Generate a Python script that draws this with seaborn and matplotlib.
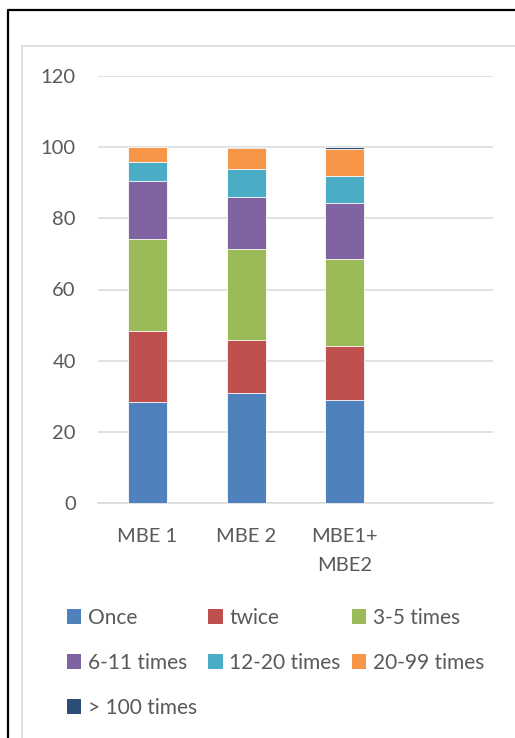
import matplotlib
matplotlib.use("Agg")
import matplotlib.pyplot as plt
from matplotlib.lines import Line2D
from matplotlib.patches import Patch
import numpy as np
import pandas as pd
import seaborn as sns

# Survey groups and frequency bands (percent of respondents)
groups = ["MBE 1", "MBE 2", "MBE1+\nMBE2"]
bands = ["Once", "twice", "3-5 times", "6-11 times", "12-20 times", "20-99 times", "> 100 times"]

once = [28.4, 30.8, 29.0]
twice = [20.0, 15.1, 15.2]
three_five = [25.7, 25.4, 24.4]
six_eleven = [16.5, 14.8, 15.6]
twelve_twenty = [5.3, 7.7, 7.8]
twenty_99 = [4.1, 5.9, 7.4]
over_100 = [0.0, 0.3, 0.6]

band_colors = ["#4F81BD", "#C0504D", "#9BBB59", "#8064A2", "#4BACC6", "#F79646", "#2C4D75"]
y_ticks = [0, 20, 40, 60, 80, 100, 120]

series = [once, twice, three_five, six_eleven, twelve_twenty, twenty_99, over_100]
wide = pd.DataFrame(dict(zip(bands, series)), index=groups)
cum = wide.cumsum(axis=1)

sns.set_theme(style="white")
plt.rcParams["font.family"] = ["Lato", "DejaVu Sans"]
text_color = "#595959"
grid_color = "#D9D9D9"

W, H = 515, 738
fig = plt.figure(figsize=(W / 100, H / 100), dpi=100)
ax = fig.add_axes([98 / W, 1 - 503 / H, (493 - 98) / W, (503 - 76) / H])

# Stack by overdrawing cumulative totals, topmost band first
for band, color in reversed(list(zip(bands, band_colors))):
    layer = pd.DataFrame({"group": groups, "total": cum[band].values})
    sns.barplot(data=layer, x="group", y="total", order=groups, color=color,
                saturation=1, width=0.395, errorbar=None,
                edgecolor="white", linewidth=0.6, ax=ax, zorder=3)

ax.set_xlim(-0.5, 3.5)
ax.set_ylim(0, 120)
ax.set_yticks(y_ticks)
ax.set_xticks(range(len(groups)))
ax.set_xticklabels(groups)
ax.set_xlabel("")
ax.set_ylabel("")
ax.yaxis.grid(True, color=grid_color, linewidth=1.1, zorder=0)
ax.set_axisbelow(True)
for side in ["left", "right", "top"]:
    ax.spines[side].set_visible(False)
ax.spines["bottom"].set_color(grid_color)
ax.spines["bottom"].set_linewidth(1.1)
ax.tick_params(axis="both", length=0, labelsize=14.5, labelcolor=text_color)
ax.tick_params(axis="y", pad=16)
ax.tick_params(axis="x", pad=18)

# Legend filled column by column so that rows read left to right
order = [0, 3, 6, 1, 4, 2, 5]
handles = [Patch(facecolor=band_colors[i], edgecolor="none") for i in order]
labels = [bands[i] for i in order]
leg = fig.legend(handles, labels, ncol=3, loc="upper left",
                 bbox_to_anchor=(48 / W, 1 - 589 / H), frameon=False,
                 fontsize=15, handlelength=0.7, handleheight=0.7,
                 handletextpad=0.3, columnspacing=0.55, labelspacing=1.2,
                 labelcolor=text_color)

# Outer frame and chart-area border
fig.add_artist(Line2D([8 / W, 8 / W, 1], [0, 1 - 10 / H, 1 - 10 / H],
                      transform=fig.transFigure, color="black", linewidth=1.6))
fig.add_artist(Line2D([21.5 / W, 21.5 / W, 1], [0, 1 - 46 / H, 1 - 46 / H],
                      transform=fig.transFigure, color=grid_color, linewidth=1.2))

# Wider line gap for the two-line category label
fig.canvas.draw()
for lbl in ax.get_xticklabels():
    lbl.set_linespacing(1.85)

fig.savefig("out.png", dpi=100, facecolor="white")
